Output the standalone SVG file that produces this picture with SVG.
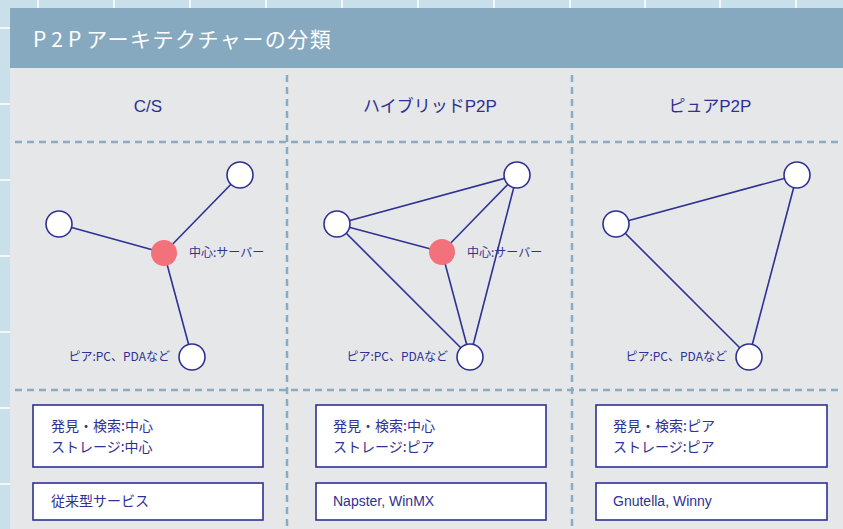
<svg xmlns="http://www.w3.org/2000/svg" width="843" height="529" viewBox="0 0 843 529">
<defs>
<style>
.grid{stroke:#ffffff;stroke-width:1.5}
.dash{stroke:#8aacc3;stroke-width:2.5;stroke-dasharray:7 5;fill:none}
.edge{stroke:#2e3192;stroke-width:1.6;fill:none}
.peer{fill:#ffffff;stroke:#2e3192;stroke-width:1.6}
.srv{fill:#f2717b}
.hd{font-family:"Liberation Sans","Noto Sans CJK JP",sans-serif;font-size:17px;fill:#2e3192;text-anchor:middle}
.lbl{font-family:"Noto Sans CJK JP",sans-serif;font-size:12px;fill:#2e3192}
.box{fill:#ffffff;stroke:#2e3192;stroke-width:1.6}
.bt{font-family:"Noto Sans CJK JP",sans-serif;font-size:14px;fill:#2e3192}
.bte{font-family:"Liberation Sans","Noto Sans CJK JP",sans-serif;font-size:14px;fill:#2e3192}
</style>
</defs>
<rect x="0" y="0" width="843" height="529" fill="#c9dfea"/>
<g id="grid">
<line class="grid" x1="38" y1="0" x2="38" y2="529"/>
<line class="grid" x1="114" y1="0" x2="114" y2="529"/>
<line class="grid" x1="190" y1="0" x2="190" y2="529"/>
<line class="grid" x1="266" y1="0" x2="266" y2="529"/>
<line class="grid" x1="342" y1="0" x2="342" y2="529"/>
<line class="grid" x1="418" y1="0" x2="418" y2="529"/>
<line class="grid" x1="494" y1="0" x2="494" y2="529"/>
<line class="grid" x1="570" y1="0" x2="570" y2="529"/>
<line class="grid" x1="645" y1="0" x2="645" y2="529"/>
<line class="grid" x1="720" y1="0" x2="720" y2="529"/>
<line class="grid" x1="796" y1="0" x2="796" y2="529"/>
<line class="grid" x1="0" y1="28" x2="843" y2="28"/>
<line class="grid" x1="0" y1="104" x2="843" y2="104"/>
<line class="grid" x1="0" y1="180" x2="843" y2="180"/>
<line class="grid" x1="0" y1="256" x2="843" y2="256"/>
<line class="grid" x1="0" y1="332" x2="843" y2="332"/>
<line class="grid" x1="0" y1="408" x2="843" y2="408"/>
<line class="grid" x1="0" y1="484" x2="843" y2="484"/>
</g>
<rect x="10" y="68" width="833" height="461" fill="#e6e7e9"/>
<g id="header">
<rect x="10" y="8" width="833" height="60" fill="#87a9bf"/>
<text x="33" y="47" font-family="Noto Sans CJK JP, sans-serif" font-size="21" letter-spacing="1.5" fill="#ffffff"><tspan letter-spacing="5">P2P</tspan>アーキテクチャーの分類</text>
</g>
<g id="dividers">
<line class="dash" x1="287" y1="75" x2="287" y2="529"/>
<line class="dash" x1="572" y1="75" x2="572" y2="529"/>
<line class="dash" x1="15" y1="142" x2="843" y2="142"/>
<line class="dash" x1="15" y1="390" x2="843" y2="390"/>
</g>
<g id="headings">
<text class="hd" x="148" y="112">C/S</text>
<text class="hd" x="430" y="112">ハイブリッドP2P</text>
<text class="hd" x="710" y="112">ピュアP2P</text>
</g>
<g id="connectors">
<line class="edge" x1="59" y1="224" x2="164" y2="253"/>
<line class="edge" x1="240" y1="175" x2="164" y2="253"/>
<line class="edge" x1="192" y1="357" x2="164" y2="253"/>
<line class="edge" x1="337" y1="224" x2="517" y2="175"/>
<line class="edge" x1="337" y1="224" x2="442" y2="252"/>
<line class="edge" x1="337" y1="224" x2="470" y2="357"/>
<line class="edge" x1="517" y1="175" x2="442" y2="252"/>
<line class="edge" x1="517" y1="175" x2="470" y2="357"/>
<line class="edge" x1="442" y1="252" x2="470" y2="357"/>
<line class="edge" x1="616" y1="224" x2="797" y2="175"/>
<line class="edge" x1="616" y1="224" x2="749" y2="357"/>
<line class="edge" x1="797" y1="175" x2="749" y2="357"/>
</g>
<g id="cs-nodes">
<circle class="srv" cx="164" cy="253" r="13"/>
<circle class="peer" cx="59" cy="224" r="13"/>
<circle class="peer" cx="240" cy="175" r="13"/>
<circle class="peer" cx="192" cy="357" r="13"/>
<text class="lbl" x="189" y="257">中心:サーバー</text>
<text class="lbl" x="170" y="361" text-anchor="end">ピア:PC、PDAなど</text>
</g>
<g id="hybrid-nodes">
<circle class="srv" cx="442" cy="252" r="13"/>
<circle class="peer" cx="337" cy="224" r="13"/>
<circle class="peer" cx="517" cy="175" r="13"/>
<circle class="peer" cx="470" cy="357" r="13"/>
<text class="lbl" x="467" y="257">中心:サーバー</text>
<text class="lbl" x="448" y="361" text-anchor="end">ピア:PC、PDAなど</text>
</g>
<g id="pure-nodes">
<circle class="peer" cx="616" cy="224" r="13"/>
<circle class="peer" cx="797" cy="175" r="13"/>
<circle class="peer" cx="749" cy="357" r="13"/>
<text class="lbl" x="727" y="361" text-anchor="end">ピア:PC、PDAなど</text>
</g>
<g id="cs-boxes">
<rect class="box" x="33" y="405" width="230" height="62"/>
<text class="bt" x="51" y="431">発見・検索:中心</text>
<text class="bt" x="51" y="452">ストレージ:中心</text>
<rect class="box" x="33" y="483" width="230" height="37"/>
<text class="bt" x="51" y="506">従来型サービス</text>
</g>
<g id="hybrid-boxes">
<rect class="box" x="316" y="405" width="230" height="62"/>
<text class="bt" x="333" y="431">発見・検索:中心</text>
<text class="bt" x="333" y="452">ストレージ:ピア</text>
<rect class="box" x="316" y="483" width="230" height="37"/>
<text class="bte" x="333" y="506">Napster, WinMX</text>
</g>
<g id="pure-boxes">
<rect class="box" x="596" y="405" width="231" height="62"/>
<text class="bt" x="613" y="431">発見・検索:ピア</text>
<text class="bt" x="613" y="452">ストレージ:ピア</text>
<rect class="box" x="596" y="483" width="231" height="37"/>
<text class="bte" x="613" y="506">Gnutella, Winny</text>
</g>
</svg>
